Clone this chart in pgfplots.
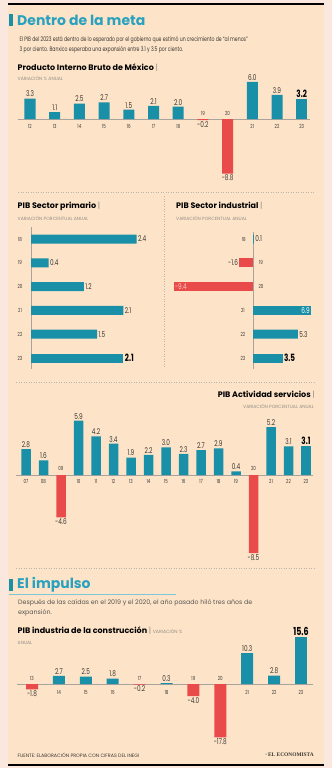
\documentclass[border=0pt]{standalone}
\usepackage{pgfplots}
\pgfplotsset{compat=1.18}
\usepackage{fontspec}
\setmainfont{Poppins}
\newfontfamily\cond[FakeStretch=0.72]{Poppins}
\newfontfamily\serifb{Liberation Serif}
\definecolor{outerbg}{HTML}{FAE8DF}
\definecolor{panel}{HTML}{FDE4C8}
\definecolor{barteal}{HTML}{1990A8}
\definecolor{barred}{HTML}{E94B4B}
\definecolor{titleteal}{HTML}{2AA1BF}
\definecolor{graytxt}{HTML}{948C86}
\definecolor{labtxt}{HTML}{3A3633}
\definecolor{sepc}{HTML}{BDB3AA}
\definecolor{basec}{HTML}{A9A39D}
\definecolor{pinktxt}{HTML}{F8C9C0}

\pgfplotsset{
  vlab/.style={point meta=explicit symbolic, nodes near coords={\pgfplotspointmeta},
     every node near coord/.append style={font=\cond\fontsize{8}{8}\selectfont, text=labtxt, inner sep=1.3pt}},
  vbold/.style={point meta=explicit symbolic, nodes near coords={\pgfplotspointmeta},
     every node near coord/.append style={font=\cond\bfseries\fontsize{10}{10}\selectfont, text=black, inner sep=1.3pt}},
  ylab/.style={draw=none, mark=none, point meta=explicit symbolic, nodes near coords={\pgfplotspointmeta},
     every node near coord/.append style={font=\cond\fontsize{5.6}{5.6}\selectfont, text=labtxt, anchor=center, inner sep=0pt}},
  chart/.style={anchor=origin, hide axis, clip=false},
  atN/.style={every node near coord/.append style={anchor=north}},
  atS/.style={every node near coord/.append style={anchor=south}},
  atW/.style={every node near coord/.append style={anchor=west}},
  atE/.style={every node near coord/.append style={anchor=east}},
}

\begin{document}
\begin{tikzpicture}[x=1pt,y=1pt]
\useasboundingbox (0,0) rectangle (332,-768);
\fill[outerbg] (0,0) rectangle (332,-768);
\fill[panel] (8,-5) rectangle (324,-763.5);
\draw[black, line width=1.4pt] (8,-4) -- (324,-4);
\draw[black, line width=1.8pt] (8,-765) -- (324,-765);

% ---------- Title 1
\fill[barteal] (9,-14) rectangle (13,-26);
\node[anchor=west, inner sep=0pt, text=titleteal, font=\bfseries\fontsize{14}{14}\selectfont] at (17,-20) {Dentro de la meta};
\node[anchor=north west, inner sep=0pt, align=left, text=labtxt, font=\cond\fontsize{6.4}{10.5}\selectfont] at (19.5,-36) {El PIB del 2023 está dentro de lo esperado por el gobierno que estimó un crecimiento de “al menos”\\3 por ciento. Banxico esperaba una expansión entre 3.1 y 3.5 por ciento.};
\node[anchor=west, inner sep=0pt, font=\bfseries\fontsize{8}{8}\selectfont] at (17.5,-67.5) {Producto Interno Bruto de México {\mdseries\color{graytxt}|}};
\node[anchor=west, inner sep=0pt, text=graytxt, font=\fontsize{4.6}{4.6}\selectfont] at (17.5,-78) {VARIACIÓN \% ANUAL};

\begin{axis}[chart, at={(30pt,-119pt)}, x=24.7pt, y=6.2pt, xmin=-0.6, xmax=11.6, ymin=-9.5, ymax=6.5]
\draw[basec, line width=0.5pt] (axis cs:-0.49,0) -- (axis cs:11.35,0);
\addplot[ybar, bar width=11pt, bar shift=0pt, fill=barteal, draw=none, vlab, atS] coordinates {(0,3.3)[3.3] (1,1.1)[1.1] (2,2.5)[2.5] (3,2.7)[2.7] (4,1.5)[1.5] (5,2.1)[2.1] (6,2.0)[2.0] (9,6.0)[6.0] (10,3.9)[3.9]};
\addplot[ybar, bar width=11pt, bar shift=0pt, fill=barteal, draw=none, vbold, atS] coordinates {(11,3.2)[3.2]};
\addplot[ybar, bar width=11pt, bar shift=0pt, fill=barred, draw=none, vlab, atN] coordinates {(7,-0.2)[-0.2] (8,-8.8)[-8.8]};
\addplot[ylab] coordinates {(0,-1.15)[12] (1,-1.15)[13] (2,-1.15)[14] (3,-1.15)[15] (4,-1.15)[16] (5,-1.15)[17] (6,-1.15)[18] (7,0.95)[19] (8,0.95)[20] (9,-1.15)[21] (10,-1.15)[22] (11,-1.15)[23]};
\end{axis}

\draw[sepc, dotted, line width=0.5pt] (18,-192) -- (314,-192);
\draw[sepc, dotted, line width=0.5pt] (164,-196) -- (164,-368);

% ---------- Primario
\node[anchor=west, inner sep=0pt, font=\bfseries\fontsize{8}{8}\selectfont] at (17.5,-206) {PIB Sector primario {\mdseries\color{graytxt}|}};
\node[anchor=west, inner sep=0pt, text=graytxt, font=\fontsize{4.6}{4.6}\selectfont] at (17.5,-218) {VARIACIÓN PORCENTUAL ANUAL};
\begin{axis}[chart, at={(31pt,-239pt)}, x=44pt, y=23.8pt, xmin=-0.4, xmax=3.0, ymin=-5.5, ymax=0.6]
\draw[basec, line width=0.6pt] (axis cs:0,0.52) -- (axis cs:0,-5.45);
\addplot[xbar, bar width=9pt, bar shift=0pt, fill=barteal, draw=none, vlab, atW] coordinates {(2.4,0)[2.4] (0.4,-1)[0.4] (1.2,-2)[1.2] (2.1,-3)[2.1] (1.5,-4)[1.5]};
\addplot[xbar, bar width=9pt, bar shift=0pt, fill=barteal, draw=none, vbold, atW] coordinates {(2.1,-5)[2.1]};
\addplot[ylab] coordinates {(-0.25,0)[18] (-0.25,-1)[19] (-0.25,-2)[20] (-0.25,-3)[21] (-0.25,-4)[22] (-0.25,-5)[23]};
\end{axis}

% ---------- Industrial
\node[anchor=west, inner sep=0pt, font=\bfseries\fontsize{8}{8}\selectfont] at (176,-206) {PIB Sector industrial {\mdseries\color{graytxt}|}};
\node[anchor=west, inner sep=0pt, text=graytxt, font=\fontsize{4.6}{4.6}\selectfont] at (176,-218) {VARIACIÓN PORCENTUAL ANUAL};
\begin{axis}[chart, at={(253pt,-239pt)}, x=8.45pt, y=23.8pt, xmin=-10, xmax=8, ymin=-5.5, ymax=0.6]
\draw[basec, line width=0.6pt] (axis cs:0,0.3) -- (axis cs:0,-5.45);
\addplot[xbar, bar width=9pt, bar shift=0pt, fill=barteal, draw=none, vlab, atW] coordinates {(0.1,0)[0.1] (5.3,-4)[5.3]};
\addplot[xbar, bar width=9pt, bar shift=0pt, fill=barteal, draw=none, vlab, every node near coord/.append style={anchor=east, text=white}] coordinates {(6.9,-3)[6.9]};
\addplot[xbar, bar width=9pt, bar shift=0pt, fill=barteal, draw=none, vbold, atW] coordinates {(3.5,-5)[3.5]};
\addplot[xbar, bar width=9pt, bar shift=0pt, fill=barred, draw=none, vlab, atE] coordinates {(-1.6,-1)[-1.6]};
\addplot[xbar, bar width=9pt, bar shift=0pt, fill=barred, draw=none, vlab, every node near coord/.append style={anchor=west, text=pinktxt}] coordinates {(-9.4,-2)[-9.4]};
\addplot[ylab] coordinates {(-1.1,0)[18] (0.95,-1)[19] (0.95,-2)[20] (-1.2,-3)[21] (-1.2,-4)[22] (-1.2,-5)[23]};
\end{axis}

\draw[sepc, dotted, line width=0.5pt] (16,-382) -- (314,-382);

% ---------- Servicios
\node[anchor=east, inner sep=0pt, font=\bfseries\fontsize{8}{8}\selectfont] at (315,-395) {PIB Actividad servicios {\mdseries\color{graytxt}|}};
\node[anchor=east, inner sep=0pt, text=graytxt, font=\fontsize{4.6}{4.6}\selectfont] at (314,-406) {VARIACIÓN PORCENTUAL ANUAL};
\begin{axis}[chart, at={(26pt,-475pt)}, x=17.5pt, y=9.2pt, xmin=-0.6, xmax=16.6, ymin=-9.5, ymax=6.5]
\draw[basec, line width=0.5pt] (axis cs:-0.57,0) -- (axis cs:16.4,0);
\addplot[ybar, bar width=9.5pt, bar shift=0pt, fill=barteal, draw=none, vlab, atS] coordinates {(0,2.8)[2.8] (1,1.6)[1.6] (3,5.9)[5.9] (4,4.2)[4.2] (5,3.4)[3.4] (6,1.9)[1.9] (7,2.2)[2.2] (8,3.0)[3.0] (9,2.3)[2.3] (10,2.7)[2.7] (11,2.9)[2.9] (12,0.4)[0.4] (14,5.2)[5.2] (15,3.1)[3.1]};
\addplot[ybar, bar width=9.5pt, bar shift=0pt, fill=barteal, draw=none, vbold, atS] coordinates {(16,3.1)[3.1]};
\addplot[ybar, bar width=9.5pt, bar shift=0pt, fill=barred, draw=none, vlab, atN] coordinates {(2,-4.6)[-4.6] (13,-8.5)[-8.5]};
\addplot[ylab] coordinates {(0,-0.68)[07] (1,-0.68)[08] (2,0.72)[09] (3,-0.68)[10] (4,-0.68)[11] (5,-0.68)[12] (6,-0.68)[13] (7,-0.68)[14] (8,-0.68)[15] (9,-0.68)[16] (10,-0.68)[17] (11,-0.68)[18] (12,-0.68)[19] (13,0.72)[20] (14,-0.68)[21] (15,-0.68)[22] (16,-0.68)[23]};
\end{axis}

\draw[sepc, dotted, line width=0.5pt] (16,-568) -- (314,-568);

% ---------- El impulso
\fill[barteal] (9,-579) rectangle (13,-591);
\node[anchor=west, inner sep=0pt, text=titleteal, font=\bfseries\fontsize{14}{14}\selectfont] at (17,-585) {El impulso};
\draw[titleteal!60, line width=0.5pt] (9,-594.5) -- (176,-594.5);
\node[anchor=north west, inner sep=0pt, align=left, text=labtxt!85, font=\fontsize{6.3}{10.5}\selectfont] at (18,-599) {Después de las caídas en el 2019 y el 2020, el año pasado hiló tres años de\\expansión.};
\node[anchor=west, inner sep=0pt, font=\bfseries\fontsize{8}{8}\selectfont] at (17.5,-630.5) {PIB industria de la construcción {\mdseries\color{graytxt}|} {\mdseries\color{graytxt}\fontsize{4.6}{4.6}\selectfont VARIACIÓN \%}};
\node[anchor=west, inner sep=0pt, text=graytxt, font=\fontsize{4.6}{4.6}\selectfont] at (17.5,-643) {ANUAL};
\begin{axis}[chart, at={(32pt,-684pt)}, x=26.9pt, y=3pt, xmin=-0.6, xmax=10.6, ymin=-19, ymax=17]
\draw[basec, line width=0.5pt] (axis cs:-0.56,0) -- (axis cs:10.45,0);
\addplot[ybar, bar width=12pt, bar shift=0pt, fill=barteal, draw=none, vlab, atS] coordinates {(1,2.7)[2.7] (2,2.5)[2.5] (3,1.8)[1.8] (5,0.3)[0.3] (8,10.3)[10.3] (9,2.8)[2.8]};
\addplot[ybar, bar width=12pt, bar shift=0pt, fill=barteal, draw=none, vbold, atS, every node near coord/.append style={font=\cond\bfseries\fontsize{11}{11}\selectfont}] coordinates {(10,15.6)[15.6]};
\addplot[ybar, bar width=12pt, bar shift=0pt, fill=barred, draw=none, vlab, atN] coordinates {(0,-1.8)[-1.8] (4,-0.2)[-0.2] (6,-4.0)[-4.0] (7,-17.8)[-17.8]};
\addplot[ylab] coordinates {(0,1.7)[13] (1,-2.7)[14] (2,-2.7)[15] (3,-2.7)[16] (4,1.7)[17] (5,-2.7)[18] (6,1.7)[19] (7,1.7)[20] (8,-2.7)[21] (9,-2.7)[22] (10,-2.7)[23]};
\end{axis}

\node[anchor=west, inner sep=0pt, text=labtxt, font=\fontsize{4.8}{4.8}\selectfont] at (17.5,-755) {FUENTE: ELABORACIÓN PROPIA CON CIFRAS DEL INEGI};
\node[anchor=east, inner sep=0pt, text=labtxt, font=\serifb\bfseries\fontsize{5.4}{5.4}\selectfont] at (314,-755) {\textcolor{barteal!70}{\textbullet}\,EL ECONOMISTA};
\end{tikzpicture}
\end{document}
